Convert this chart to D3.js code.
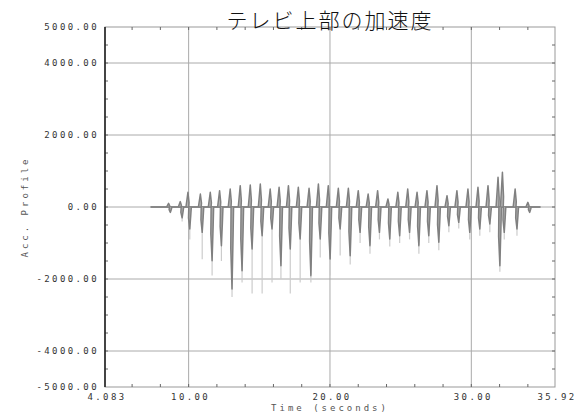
<!DOCTYPE html>
<html>
<head>
<meta charset="utf-8">
<script src="https://cdn.jsdelivr.net/npm/d3@7"></script>
<style>
  body { margin: 0; background: #fff; }
  svg { display: block; }
  .tick-label { font-family: "DejaVu Sans Mono", monospace; font-size: 9px; fill: #333; letter-spacing: 2.4px; }
  .axis-title { font-family: "DejaVu Sans Mono", monospace; font-size: 9px; fill: #555; letter-spacing: 3px; }
</style>
</head>
<body>
<div id="chart"></div>
<script>
var title = "テレビ上部の加速度";
var xTitle = "Time (seconds)";
var yTitle = "Acc. Profile";

var xDomain = [4.083, 35.92];
var yDomain = [-5000, 5000];
var xTickValues = [4.083, 10, 20, 30, 35.92];
var xTickLabels = ["4.083", "10.00", "20.00", "30.00", "35.92"];
var yTickValues = [5000, 4000, 2000, 0, -2000, -4000, -5000];
var yTickLabels = ["5000.00", "4000.00", "2000.00", "0.00", "-2000.00", "-4000.00", "-5000.00"];
var xGrid = [10, 20, 30];
var yGrid = [4000, 2000, 0, -2000, -4000];

// impacts: time, positive peak, negative trough
var spikeTimes = [8.68, 9.51, 10.05, 10.93, 11.63, 12.29, 13.04, 13.75, 14.46, 15.17,
  15.87, 16.50, 17.16, 17.86, 18.62, 19.28, 19.98, 20.69, 21.40, 22.10,
  22.80, 23.47, 24.20, 24.90, 25.60, 26.26, 26.96, 27.67, 28.38, 29.08,
  29.86, 30.57, 31.28, 31.99, 32.30, 33.20, 34.10];
var spikePeaks = [100, 150, 407, 361, 407, 454, 500, 593, 611, 639,
  500, 546, 593, 546, 519, 639, 593, 519, 519, 454,
  361, 454, 222, 407, 500, 407, 454, 593, 315, 454,
  500, 546, 593, 824, 963, 500, 130];
var spikeTroughs = [-150, -300, -611, -704, -1491, -1074, -2278, -1769, -1167, -796,
  -611, -1630, -1167, -889, -1907, -889, -1444, -611, -1352, -704,
  -1074, -704, -889, -796, -704, -1074, -796, -981, -519, -426,
  -704, -611, -472, -1630, -704, -611, -150];
// faint tails below the main trough
var spikeTails = [-150, -400, -900, -1450, -1900, -1500, -2500, -2100, -2400, -2400,
  -2100, -2000, -2400, -2100, -2100, -1400, -1900, -1350, -1600, -1000,
  -1300, -900, -1100, -1000, -900, -1300, -1000, -1200, -700, -600,
  -900, -800, -700, -1800, -900, -800, -150];

var W = 580, H = 413;
var margin = {top: 27, right: 25, bottom: 26, left: 105};
var width = W - margin.left - margin.right,
    height = H - margin.top - margin.bottom;

var svg = d3.select("#chart").append("svg")
    .attr("width", W)
    .attr("height", H);

var g = svg.append("g")
    .attr("transform", "translate(" + margin.left + "," + margin.top + ")");

var x = d3.scaleLinear().domain(xDomain).range([0, width]);
var y = d3.scaleLinear().domain(yDomain).range([height, 0]);

// grid
g.selectAll("line.xgrid").data(xGrid).enter().append("line")
    .attr("x1", function(d) { return x(d); }).attr("x2", function(d) { return x(d); })
    .attr("y1", 0).attr("y2", height)
    .attr("stroke", "#aaa").attr("stroke-width", 1);
g.selectAll("line.ygrid").data(yGrid).enter().append("line")
    .attr("x1", 0).attr("x2", width)
    .attr("y1", function(d) { return y(d); }).attr("y2", function(d) { return y(d); })
    .attr("stroke", "#aaa").attr("stroke-width", 1);

// frame
g.append("rect")
    .attr("width", width).attr("height", height)
    .attr("fill", "none").attr("stroke", "#999").attr("stroke-width", 1);

// minor ticks
var yMinor = d3.range(-4500, 5000, 500);
var xMinor = d3.range(6, 35, 2);
g.selectAll("line.ym").data(yMinor).enter().append("line")
    .attr("x1", 0).attr("x2", 3)
    .attr("y1", function(d) { return y(d); }).attr("y2", function(d) { return y(d); })
    .attr("stroke", "#666");
g.selectAll("line.ymr").data(yMinor).enter().append("line")
    .attr("x1", width - 3).attr("x2", width)
    .attr("y1", function(d) { return y(d); }).attr("y2", function(d) { return y(d); })
    .attr("stroke", "#666");
g.selectAll("line.xm").data(xMinor).enter().append("line")
    .attr("x1", function(d) { return x(d); }).attr("x2", function(d) { return x(d); })
    .attr("y1", height - 3).attr("y2", height)
    .attr("stroke", "#666");
g.selectAll("line.xmt").data(xMinor).enter().append("line")
    .attr("x1", function(d) { return x(d); }).attr("x2", function(d) { return x(d); })
    .attr("y1", 0).attr("y2", 3)
    .attr("stroke", "#666");

// left axis line
g.append("line")
    .attr("x1", 0).attr("x2", 0).attr("y1", 0).attr("y2", height)
    .attr("stroke", "#222").attr("stroke-width", 1.6);

// baseline noise along zero
g.append("line")
    .attr("x1", x(7.3)).attr("x2", x(34.9))
    .attr("y1", y(0)).attr("y2", y(0))
    .attr("stroke", "#888").attr("stroke-width", 1.8);

var line = d3.line()
    .x(function(d) { return x(d[0]); })
    .y(function(d) { return y(d[1]); });

// faint tails
g.selectAll("path.tail").data(spikeTimes).enter().append("path")
    .attr("d", function(t, i) {
      return line([[t + 0.03, 0], [t + 0.03, spikeTails[i]]]);
    })
    .attr("fill", "none").attr("stroke", "#ccc").attr("stroke-width", 1.2);

// spikes
g.selectAll("path.spike").data(spikeTimes).enter().append("path")
    .attr("d", function(t, i) {
      return line([[t - 0.24, 0], [t - 0.1, spikePeaks[i]], [t - 0.02, spikePeaks[i] * 0.3],
                   [t - 0.04, 0], [t - 0.06, spikeTroughs[i] * 0.5], [t + 0.03, spikeTroughs[i]],
                   [t + 0.1, spikeTroughs[i] * 0.4], [t + 0.14, 0]]);
    })
    .attr("fill", "#999").attr("fill-opacity", 0.7)
    .attr("stroke", "#808080").attr("stroke-width", 1.5)
    .attr("stroke-linejoin", "round");

// tick labels
svg.selectAll("text.ylab").data(yTickValues).enter().append("text")
    .attr("class", "tick-label")
    .attr("x", margin.left - 6)
    .attr("y", function(d) { return margin.top + y(d) + 3; })
    .attr("text-anchor", "end")
    .text(function(d, i) { return yTickLabels[i]; });

svg.selectAll("text.xlab").data(xTickValues).enter().append("text")
    .attr("class", "tick-label")
    .attr("x", function(d) { return margin.left + x(d) + 2; })
    .attr("y", margin.top + height + 13)
    .attr("text-anchor", "middle")
    .text(function(d, i) { return xTickLabels[i]; });

// axis titles
svg.append("text")
    .attr("class", "axis-title")
    .attr("x", margin.left + width / 2)
    .attr("y", H - 2)
    .attr("text-anchor", "middle")
    .text(xTitle);

svg.append("text")
    .attr("class", "axis-title")
    .attr("transform", "translate(28," + (margin.top + y(0)) + ") rotate(-90)")
    .attr("text-anchor", "middle")
    .text(yTitle);

// title
svg.append("text")
    .attr("x", 330)
    .attr("y", 28)
    .attr("text-anchor", "middle")
    .style("font-family", "'Noto Sans CJK JP', sans-serif")
    .style("font-size", "21px")
    .style("font-weight", 300)
    .style("letter-spacing", "2px")
    .style("fill", "#111")
    .text(title);
</script>
</body>
</html>
